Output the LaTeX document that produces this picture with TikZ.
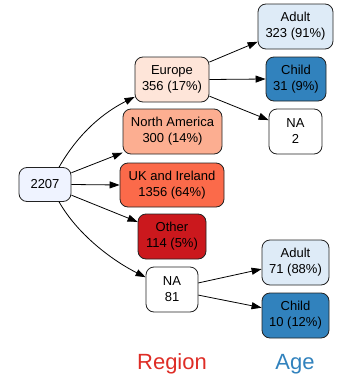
\documentclass[tikz,border=0pt]{standalone}
\usepackage{fontspec}
\setmainfont{Liberation Sans}
\usetikzlibrary{arrows.meta}
\definecolor{cRoot}{HTML}{EFF3FF}
\definecolor{cEur}{HTML}{FEE5D9}
\definecolor{cNam}{HTML}{FCAE91}
\definecolor{cUk}{HTML}{FB6A4A}
\definecolor{cOth}{HTML}{CB181D}
\definecolor{cAdult}{HTML}{DEEBF7}
\definecolor{cChild}{HTML}{3182BD}
\definecolor{cRegion}{HTML}{DE2D26}
\definecolor{cLine}{HTML}{222222}
\tikzset{
  box/.style={draw=cLine, line width=0.8pt, rounded corners=8pt, inner sep=0pt,
    align=center, font=\fontsize{13}{16}\selectfont, minimum height=45pt},
  edge/.style={line width=0.8pt, draw=black, -{Triangle[length=10pt,width=7pt]}},
  legend/.style={anchor=base, font=\fontsize{22}{26}\selectfont}
}
\begin{document}
\begin{tikzpicture}[x=1pt,y=-1pt]
\useasboundingbox (0,0) rectangle (337,383);
\node[box, fill=cRoot, minimum width=52pt, minimum height=34pt] (root) at (45,184.5) {2207};
\node[box, fill=cEur, minimum width=74pt] (eur) at (172,79.5) {Europe\\356 (17\%)};
\node[box, fill=cNam, minimum width=99pt] (nam) at (172.5,131.5) {North America\\300 (14\%)};
\node[box, fill=cUk, minimum width=104pt, minimum height=44pt] (uk) at (172,185) {UK and Ireland\\1356 (64\%)};
\node[box, fill=cOth, minimum width=68pt] (oth) at (172,236.5) {Other\\114 (5\%)};
\node[box, fill=white, minimum width=52pt] (na) at (172,289.5) {NA\\81};
\node[box, fill=cAdult, minimum width=75pt] (ea) at (295.5,26.5) {Adult\\323 (91\%)};
\node[box, fill=cChild, minimum width=60pt, minimum height=44pt] (ec) at (296,79) {Child\\31 (9\%)};
\node[box, fill=white, minimum width=53pt] (ena) at (295.5,131.5) {NA\\2};
\node[box, fill=cAdult, minimum width=67pt] (na_a) at (295.5,262.5) {Adult\\71 (88\%)};
\node[box, fill=cChild, minimum width=67pt] (na_c) at (295.5,315.5) {Child\\10 (12\%)};
\node[legend, text=cRegion] (lreg) at (172,369) {Region};
\node[legend, text=cChild] (lage) at (295,369) {Age};
% edges from root
\draw[edge] (root.51) .. controls +(20,-35) and +(-30,15) .. (eur.205);
\draw[edge] (root.24) -- (nam.203);
\draw[edge] (root.east) -- (uk.west);
\draw[edge] (root.-22) -- (oth.157);
\draw[edge] (root.-51) .. controls +(20,35) and +(-30,-15) .. (na.155);
% edges from Europe
\draw[edge] (eur.25) -- (ea.202);
\draw[edge] (eur.east) -- (ec.west);
\draw[edge] (eur.-24) -- (ena.157);
% edges from NA
\draw[edge] (na.14) -- (na_a.191);
\draw[edge] (na.-12) -- (na_c.167);
\end{tikzpicture}
\end{document}
